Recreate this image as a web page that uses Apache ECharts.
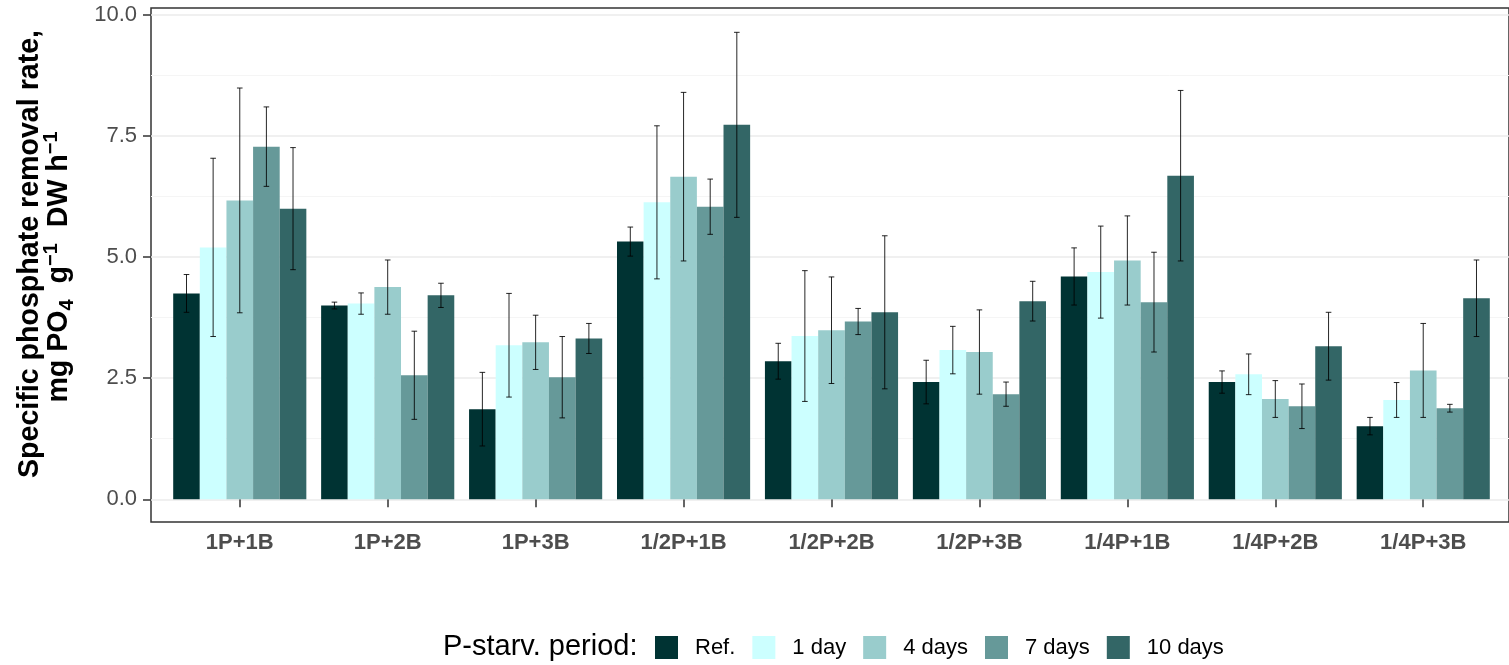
<!DOCTYPE html>
<html><head><meta charset="utf-8">
<script src="https://cdn.jsdelivr.net/npm/echarts@6/dist/echarts.min.js"></script>
<style>html,body{margin:0;padding:0;background:#fff}#c{width:1509px;height:665px}</style>
</head><body><div id="c"></div>
<script>
// ---- data ----
const categories = ['1P+1B','1P+2B','1P+3B','1/2P+1B','1/2P+2B','1/2P+3B','1/4P+1B','1/4P+2B','1/4P+3B'];
const seriesNames = ['Ref.', '1 day', '4 days', '7 days', '10 days'];
const ref    = [4.25, 4.00, 1.86, 5.32, 2.85, 2.42, 4.60, 2.42, 1.51];
const refSd  = [0.39, 0.07, 0.76, 0.30, 0.37, 0.45, 0.59, 0.23, 0.18];
const day1   = [5.20, 4.04, 3.18, 6.13, 3.37, 3.08, 4.69, 2.58, 2.05];
const day1Sd = [1.84, 0.22, 1.07, 1.58, 1.35, 0.49, 0.95, 0.42, 0.36];
const day4   = [6.17, 4.38, 3.24, 6.66, 3.49, 3.04, 4.93, 2.07, 2.66];
const day4Sd = [2.32, 0.56, 0.56, 1.74, 1.10, 0.87, 0.92, 0.38, 0.97];
const day7   = [7.28, 2.56, 2.52, 6.04, 3.67, 2.17, 4.07, 1.92, 1.88];
const day7Sd = [0.82, 0.91, 0.84, 0.57, 0.27, 0.25, 1.03, 0.46, 0.08];
const day10  = [6.00, 4.21, 3.32, 7.73, 3.86, 4.09, 6.68, 3.16, 4.15];
const day10Sd= [1.26, 0.25, 0.31, 1.91, 1.58, 0.41, 1.76, 0.70, 0.79];
const yTicks = [0, 2.5, 5, 7.5, 10];
const yMinor = [1.25, 3.75, 6.25, 8.75];
const colors = ['#003333', '#CCFFFF', '#99CCCC', '#669999', '#336666'];

// ---- chart ----
const FONT = '"Liberation Sans", Arial, Helvetica, sans-serif';
const Y_MIN = -0.469, Y_MAX = 10.142;
const means = [ref, day1, day4, day7, day10];
const sds = [refSd, day1Sd, day4Sd, day7Sd, day10Sd];
const errData = [];
means.forEach((m, s) => m.forEach((v, i) => errData.push([i, v - sds[s][i], v + sds[s][i], s])));

const chart = echarts.init(document.getElementById('c'), null, {renderer: 'canvas'});
const tickLine = {color: '#333333', width: 1.5};

const barSeries = means.map((m, s) => ({
  name: seriesNames[s], type: 'bar', xAxisIndex: 1, yAxisIndex: 2,
  data: m, barGap: '0%', barCategoryGap: '10%',
  itemStyle: {color: colors[s]}, z: 2
}));

const errSeries = {
  name: 'err', type: 'custom', xAxisIndex: 1, yAxisIndex: 2, z: 5,
  data: errData, encode: {x: 0, y: [1, 2]},
  renderItem: function (params, api) {
    const cat = api.value(0), lo = api.value(1), hi = api.value(2), s = api.value(3);
    const band = api.size([1, 0])[0];
    const bw = band * 0.9 / 5;
    const pLo = api.coord([cat, lo]);
    const pHi = api.coord([cat, hi]);
    const x = pLo[0] + (s - 2) * bw;
    const cap = 2.8;
    const st = {stroke: '#000', lineWidth: 1, opacity: 0.85};
    return {type: 'group', children: [
      {type: 'line', shape: {x1: x, y1: pHi[1], x2: x, y2: pLo[1]}, style: st},
      {type: 'line', shape: {x1: x - cap, y1: pHi[1], x2: x + cap, y2: pHi[1]}, style: st},
      {type: 'line', shape: {x1: x - cap, y1: pLo[1], x2: x + cap, y2: pLo[1]}, style: st}
    ]};
  }
};

const option = {
  animation: false,
  backgroundColor: '#ffffff',
  grid: [
    {left: 151, top: 8, right: -3, bottom: 143, show: true, borderColor: '#333333', borderWidth: 1.5, backgroundColor: 'transparent'},
    {left: 165.8, top: 8, right: 11.8, bottom: 143}
  ],
  xAxis: [
    {gridIndex: 0, type: 'value', min: 0, max: 1, show: false},
    {gridIndex: 1, type: 'category', data: categories,
      axisLine: {show: false},
      axisTick: {show: true, alignWithLabel: true, length: 8, lineStyle: tickLine},
      axisLabel: {margin: 10, fontFamily: FONT, fontSize: 22, fontWeight: 'bold', color: '#4D4D4D'},
      splitLine: {show: false}}
  ],
  yAxis: [
    {gridIndex: 0, type: 'value', min: Y_MIN, max: Y_MAX,
      axisLine: {show: false},
      axisTick: {show: true, length: 8, customValues: yTicks, lineStyle: tickLine},
      axisLabel: {customValues: yTicks, formatter: v => Number(v).toFixed(1), margin: 14,
        fontFamily: FONT, fontSize: 22, color: '#4D4D4D'},
      splitLine: {show: true, lineStyle: {color: '#EBEBEB', width: 1.5}}},
    {gridIndex: 0, type: 'value', min: Y_MIN, max: Y_MAX,
      axisLine: {show: false},
      axisTick: {show: false, customValues: yMinor},
      axisLabel: {show: false, customValues: yMinor},
      splitLine: {show: true, lineStyle: {color: '#F5F5F5', width: 1}}},
    {gridIndex: 1, type: 'value', min: Y_MIN, max: Y_MAX, show: false, splitLine: {show: false}}
  ],
  legend: {
    left: 650, top: 631, itemWidth: 23, itemHeight: 23, itemGap: 17, icon: 'rect',
    data: seriesNames,
    textStyle: {fontFamily: FONT, fontSize: 22, color: '#000', padding: [0, 0, 0, 12]}
  },
  graphic: [
    {type: 'text', x: 443, y: 647, style: {text: 'P-starv. period:', font: '29px ' + FONT, fill: '#000', align: 'left', verticalAlign: 'middle'}},
    {type: 'text', x: 30, y: 254, rotation: Math.PI / 2,
      style: {text: 'Specific phosphate removal rate,', font: 'bold 28.6px ' + FONT, fill: '#000', align: 'center', verticalAlign: 'middle'}},
    {type: 'text', x: 59, y: 267, rotation: Math.PI / 2,
      style: {
        text: '{n|mg PO}{sub|4}{n|  g}{sup|\u22121}{n|  DW h}{sup|\u22121}',
        align: 'center', verticalAlign: 'middle', fill: '#000',
        rich: {
          n: {fontFamily: FONT, fontSize: 28.6, fontWeight: 'bold', lineHeight: 36, fill: '#000'},
          sub: {fontFamily: FONT, fontSize: 20, fontWeight: 'bold', lineHeight: 20, verticalAlign: 'bottom', fill: '#000'},
          sup: {fontFamily: FONT, fontSize: 20, fontWeight: 'bold', lineHeight: 20, verticalAlign: 'top', fill: '#000'}
        }
      }}
  ],
  series: barSeries.concat([errSeries])
};
chart.setOption(option);
</script>
</body></html>
